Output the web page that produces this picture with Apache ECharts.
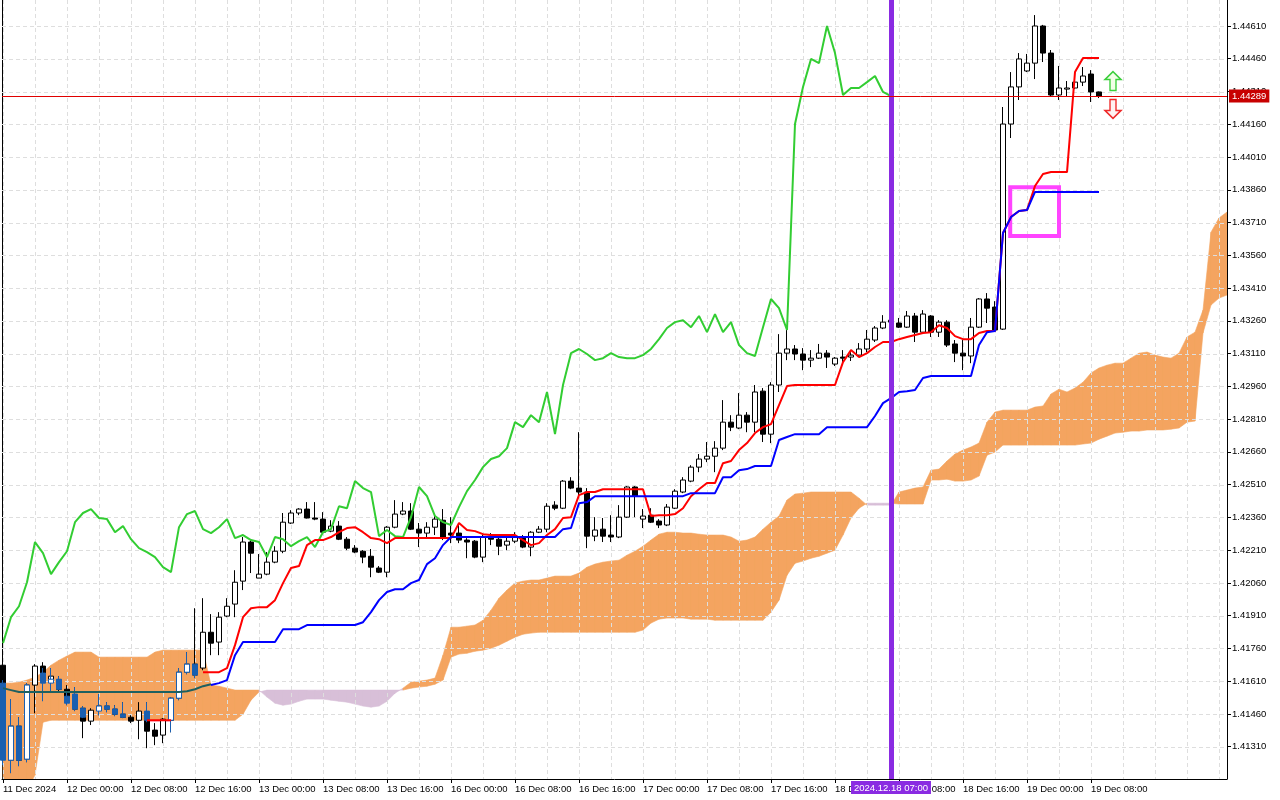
<!DOCTYPE html>
<html>
<head>
<meta charset="utf-8">
<title>GBPUSD H1 Ichimoku</title>
<script src="https://cdn.jsdelivr.net/npm/echarts@6/dist/echarts.min.js"></script>
<style>
  html, body { margin: 0; padding: 0; background: #fff; }
  #chart { width: 1280px; height: 800px; }
</style>
</head>
<body>
<div id="chart"></div>
<script>
// H1 bars, [open, close, low, high]
const ohlc = [
  [1.41683,1.41601,1.41560,1.41706],[1.41248,1.41404,1.41189,1.41528],[1.41404,1.41248,1.41221,1.41445],
  [1.41253,1.41592,1.41239,1.41601],[1.41592,1.41679,1.41463,1.41688],[1.41679,1.41647,1.41615,1.41697],
  [1.41615,1.41633,1.41560,1.41670],[1.41615,1.41573,1.41560,1.41633],[1.41573,1.41523,1.41500,1.41592],
  [1.41523,1.41482,1.41473,1.41583],[1.41486,1.41427,1.41349,1.41496],[1.41427,1.41477,1.41409,1.41486],
  [1.41477,1.41496,1.41454,1.41551],[1.41496,1.41482,1.41468,1.41514],[1.41482,1.41459,1.41450,1.41500],
  [1.41459,1.41445,1.41441,1.41514],[1.41445,1.41427,1.41418,1.41454],[1.41431,1.41473,1.41344,1.41514],
  [1.41468,1.41381,1.41303,1.41514],[1.41386,1.41358,1.41317,1.41418],[1.41363,1.41436,1.41326,1.41441],
  [1.41431,1.41532,1.41376,1.41537],[1.41532,1.41651,1.41523,1.41670],[1.41651,1.41688,1.41642,1.41743],
  [1.41688,1.41638,1.41624,1.41944],[1.41670,1.41834,1.41660,1.41990],[1.41834,1.41784,1.41729,1.41917],
  [1.41789,1.41903,1.41729,1.41926],[1.41908,1.41953,1.41903,1.41990],[1.41963,1.42063,1.41903,1.42118],
  [1.42068,1.42247,1.42027,1.42270],[1.42247,1.42196,1.42105,1.42256],[1.42082,1.42100,1.42082,1.42192],
  [1.42100,1.42155,1.42095,1.42201],[1.42155,1.42205,1.42150,1.42228],[1.42205,1.42338,1.42196,1.42380],
  [1.42334,1.42380,1.42330,1.42393],[1.42380,1.42398,1.42370,1.42402],[1.42398,1.42357,1.42355,1.42430],
  [1.42357,1.42352,1.42347,1.42430],[1.42352,1.42292,1.42288,1.42384],[1.42297,1.42320,1.42292,1.42347],
  [1.42320,1.42260,1.42256,1.42343],[1.42260,1.42219,1.42210,1.42270],[1.42219,1.42201,1.42196,1.42233],
  [1.42205,1.42178,1.42150,1.42210],[1.42182,1.42132,1.42086,1.42215],[1.42128,1.42109,1.42105,1.42137],
  [1.42109,1.42315,1.42086,1.42320],[1.42315,1.42375,1.42310,1.42439],[1.42375,1.42389,1.42370,1.42430],
  [1.42389,1.42306,1.42302,1.42425],[1.42306,1.42288,1.42224,1.42334],[1.42288,1.42315,1.42270,1.42338],
  [1.42315,1.42352,1.42279,1.42370],[1.42347,1.42265,1.42256,1.42398],[1.42288,1.42279,1.42242,1.42361],
  [1.42288,1.42256,1.42242,1.42334],[1.42256,1.42247,1.42173,1.42265],[1.42251,1.42178,1.42173,1.42256],
  [1.42178,1.42270,1.42155,1.42279],[1.42274,1.42260,1.42233,1.42288],[1.42260,1.42228,1.42187,1.42270],
  [1.42233,1.42251,1.42210,1.42279],[1.42251,1.42270,1.42242,1.42292],[1.42265,1.42224,1.42219,1.42279],
  [1.42224,1.42292,1.42182,1.42297],[1.42292,1.42306,1.42288,1.42320],[1.42306,1.42411,1.42292,1.42425],
  [1.42416,1.42402,1.42393,1.42434],[1.42402,1.42526,1.42398,1.42531],[1.42526,1.42494,1.42489,1.42544],
  [1.42494,1.42476,1.42453,1.42750],[1.42476,1.42274,1.42219,1.42494],[1.42274,1.42302,1.42251,1.42361],
  [1.42306,1.42274,1.42247,1.42357],[1.42279,1.42270,1.42247,1.42370],[1.42270,1.42361,1.42265,1.42416],
  [1.42361,1.42499,1.42357,1.42503],[1.42499,1.42457,1.42361,1.42503],[1.42352,1.42366,1.42311,1.42398],
  [1.42370,1.42338,1.42334,1.42402],[1.42343,1.42325,1.42311,1.42352],[1.42325,1.42407,1.42320,1.42421],
  [1.42402,1.42480,1.42398,1.42489],[1.42476,1.42531,1.42471,1.42544],[1.42526,1.42590,1.42521,1.42599],
  [1.42590,1.42627,1.42567,1.42650],[1.42627,1.42640,1.42613,1.42705],[1.42640,1.42677,1.42567,1.42709],
  [1.42677,1.42796,1.42668,1.42897],[1.42796,1.42773,1.42755,1.42828],[1.42769,1.42828,1.42764,1.42929],
  [1.42828,1.42796,1.42750,1.42842],[1.42796,1.42934,1.42750,1.42966],[1.42938,1.42741,1.42705,1.42952],
  [1.42741,1.42966,1.42700,1.42979],[1.42966,1.43112,1.42934,1.43199],[1.43112,1.43131,1.43080,1.43222],
  [1.43131,1.43108,1.43080,1.43149],[1.43108,1.43080,1.43034,1.43135],[1.43080,1.43089,1.43048,1.43126],
  [1.43089,1.43112,1.43085,1.43154],[1.43112,1.43094,1.43044,1.43126],[1.43062,1.43089,1.43053,1.43094],
  [1.43094,1.43089,1.43071,1.43126],[1.43094,1.43103,1.43076,1.43117],[1.43103,1.43131,1.43099,1.43158],
  [1.43131,1.43176,1.43117,1.43218],[1.43172,1.43227,1.43163,1.43236],[1.43227,1.43254,1.43222,1.43286],
  [1.43254,1.43263,1.43236,1.43291],[1.43250,1.43231,1.43227,1.43273],[1.43231,1.43282,1.43227,1.43305],
  [1.43282,1.43208,1.43163,1.43296],[1.43208,1.43291,1.43204,1.43309],[1.43282,1.43208,1.43186,1.43286],
  [1.43208,1.43254,1.43186,1.43263],[1.43254,1.43149,1.43140,1.43263],[1.43154,1.43112,1.43071,1.43172],
  [1.43112,1.43099,1.43034,1.43172],[1.43099,1.43231,1.43066,1.43273],[1.43231,1.43360,1.43227,1.43364],
  [1.43360,1.43318,1.43250,1.43387],[1.43323,1.43218,1.43213,1.43350],[1.43222,1.44161,1.43218,1.44239],
  [1.44161,1.44331,1.44097,1.44399],[1.44331,1.44459,1.44271,1.44486],[1.44404,1.44440,1.44399,1.44482],
  [1.44440,1.44610,1.44367,1.44660],[1.44610,1.44486,1.44445,1.44615],[1.44486,1.44294,1.44289,1.44500],
  [1.44294,1.44326,1.44271,1.44427],[1.44321,1.44326,1.44285,1.44358],[1.44326,1.44353,1.44321,1.44399],
  [1.44353,1.44381,1.44335,1.44422],[1.44390,1.44308,1.44262,1.44408],[1.44308,1.44289,1.44280,1.44310]
];

// blue overlay candles on the first bars (null = not drawn)
const blueCandles = [
  [1.41601,1.41248,1.41225,1.41615],[1.41248,1.41404,1.41189,1.41528],[1.41404,1.41248,1.41221,1.41445],
  [1.41253,1.41592,1.41239,1.41601],null,[1.41647,1.41601,1.41518,1.41670],
  [1.41601,1.41619,1.41560,1.41670],[1.41619,1.41573,1.41569,1.41633],[1.41541,1.41509,1.41500,1.41564],
  [1.41551,1.41482,1.41473,1.41583],[1.41486,1.41445,1.41441,1.41496],null,
  [1.41473,1.41496,1.41454,1.41551],[1.41496,1.41482,1.41468,1.41514],[1.41482,1.41459,1.41450,1.41500],
  [1.41459,1.41445,1.41441,1.41514],null,null,
  [1.41473,1.41431,1.41422,1.41514],null,null,
  [1.41431,1.41532,1.41376,1.41537],[1.41532,1.41651,1.41523,1.41670],[1.41651,1.41688,1.41642,1.41743],
  [1.41688,1.41638,1.41624,1.41688]
];

// Tenkan-sen (red), from bar 18
const tenkanStart = 18;
const tenkan = [
  1.41431,1.41431,1.41431,1.41431,null,null,null,1.41651,1.41651,1.41651,
  1.41670,1.41775,1.41903,1.41944,1.41949,1.41949,1.41981,1.42059,1.42128,1.42137,
  1.42233,1.42256,1.42256,1.42270,1.42292,1.42311,1.42315,1.42292,1.42265,1.42260,
  1.42242,1.42265,1.42265,1.42265,1.42265,1.42265,1.42265,1.42265,1.42265,1.42334,
  1.42302,1.42297,1.42283,1.42279,1.42279,1.42279,1.42279,1.42256,1.42233,1.42242,
  1.42279,1.42306,1.42357,1.42361,1.42462,1.42476,1.42476,1.42489,1.42489,1.42489,
  1.42489,1.42489,1.42489,1.42366,1.42370,1.42370,1.42375,1.42402,1.42457,1.42489,
  1.42517,1.42517,1.42608,1.42618,1.42668,1.42700,1.42746,1.42773,1.42787,1.42874,
  1.42961,1.42966,1.42966,1.42966,1.42966,1.42966,1.42966,1.43071,1.43126,1.43094,
  1.43112,1.43140,1.43163,1.43163,1.43176,1.43186,1.43195,1.43204,1.43208,1.43240,
  1.43227,1.43190,1.43176,1.43176,1.43204,1.43213,1.43213,1.43662,1.43735,1.43763,
  1.43767,1.43877,1.43932,1.43941,1.43941,1.43941,1.44399,1.44463,1.44463,1.44463
];

// Kijun-sen (blue), from bar 26
const kijunStart = 26;
const kijun = [
  1.41592,1.41601,1.41615,1.41729,1.41789,1.41789,1.41789,1.41789,1.41789,1.41848,
  1.41848,1.41848,1.41867,1.41867,1.41867,1.41867,1.41867,1.41867,1.41867,1.41880,
  1.41926,1.41981,1.42018,1.42031,1.42031,1.42059,1.42073,1.42146,1.42173,1.42233,
  1.42270,1.42270,1.42270,1.42270,1.42270,1.42270,1.42270,1.42270,1.42270,1.42270,
  1.42270,1.42270,1.42270,1.42270,1.42306,1.42311,1.42425,1.42430,1.42457,1.42457,
  1.42457,1.42457,1.42457,1.42457,1.42457,1.42457,1.42457,1.42457,1.42457,1.42457,
  1.42471,1.42471,1.42471,1.42471,1.42544,1.42544,1.42576,1.42581,1.42595,1.42595,
  1.42595,1.42714,1.42728,1.42741,1.42741,1.42741,1.42741,1.42773,1.42773,1.42773,
  1.42773,1.42773,1.42773,1.42824,1.42883,1.42906,1.42934,1.42938,1.42943,1.42998,
  1.43007,1.43007,1.43007,1.43007,1.43007,1.43007,1.43149,1.43208,1.43213,1.43662,
  1.43735,1.43763,1.43767,1.43850,1.43850,1.43850,1.43850,1.43850,1.43850,1.43850,1.43850,1.43850
];

// Chikou span (green), bars 0..111
const chikou = [
  1.41784,1.41903,1.41953,1.42063,1.42247,1.42196,1.42100,1.42155,1.42205,1.42338,
  1.42380,1.42398,1.42357,1.42352,1.42292,1.42320,1.42260,1.42219,1.42201,1.42178,
  1.42132,1.42109,1.42315,1.42375,1.42389,1.42306,1.42288,1.42315,1.42352,1.42265,
  1.42279,1.42256,1.42247,1.42178,1.42270,1.42260,1.42228,1.42251,1.42270,1.42224,
  1.42292,1.42306,1.42411,1.42402,1.42526,1.42494,1.42476,1.42274,1.42302,1.42274,
  1.42270,1.42361,1.42499,1.42457,1.42366,1.42338,1.42325,1.42407,1.42480,1.42531,
  1.42590,1.42627,1.42640,1.42677,1.42796,1.42773,1.42828,1.42796,1.42934,1.42741,
  1.42966,1.43112,1.43131,1.43108,1.43080,1.43089,1.43112,1.43094,1.43089,1.43089,
  1.43103,1.43131,1.43176,1.43227,1.43254,1.43263,1.43231,1.43282,1.43208,1.43291,
  1.43208,1.43254,1.43149,1.43112,1.43099,1.43231,1.43360,1.43318,1.43218,1.44161,
  1.44331,1.44459,1.44440,1.44610,1.44486,1.44294,1.44326,1.44326,1.44353,1.44381,1.44308,1.44289
];

// second indicator lines on the first bars
const pinkLine = [
  1.41578,1.41569,1.41560,1.41560,1.41560,1.41560,1.41560,1.41560,1.41560,1.41445,
  1.41445,1.41477,1.41523,1.41514,1.41500,1.41486,1.41473,1.41468,1.41431,1.41431,
  1.41431,1.41431,1.41491,1.41555,1.41624,1.41651
];
const tealLine = [
  1.41578,1.41569,1.41560,1.41560,1.41560,1.41560,1.41560,1.41560,1.41560,1.41560,
  1.41560,1.41560,1.41560,1.41560,1.41560,1.41560,1.41560,1.41560,1.41560,1.41560,
  1.41560,1.41560,1.41560,1.41564,1.41573,1.41587,1.41596
];

// Senkou span A / B (already shifted forward), bars 0..153
const spanA = [
  1.41601,1.41601,1.41605,1.41615,1.41628,1.41651,1.41683,1.41706,1.41725,1.41743,
  1.41743,1.41743,1.41720,1.41720,1.41720,1.41720,1.41720,1.41720,1.41720,1.41743,
  1.41752,1.41752,1.41752,1.41752,1.41752,1.41752,1.41592,1.41587,1.41578,1.41569,
  1.41569,1.41569,1.41569,1.41537,1.41509,1.41500,1.41505,1.41518,1.41528,1.41528,
  1.41528,1.41523,1.41518,1.41514,1.41505,1.41496,1.41491,1.41496,1.41518,1.41555,
  1.41578,1.41605,1.41610,1.41615,1.41624,1.41729,1.41857,1.41857,1.41862,1.41867,
  1.41889,1.41935,1.41990,1.42027,1.42059,1.42068,1.42073,1.42073,1.42082,1.42091,
  1.42091,1.42091,1.42105,1.42132,1.42146,1.42155,1.42160,1.42164,1.42187,1.42205,
  1.42228,1.42256,1.42283,1.42292,1.42292,1.42288,1.42288,1.42283,1.42279,1.42279,
  1.42279,1.42270,1.42251,1.42256,1.42270,1.42306,1.42338,1.42366,1.42439,1.42467,
  1.42471,1.42476,1.42476,1.42476,1.42476,1.42476,1.42476,1.42448,1.42416,1.42416,
  1.42416,1.42416,1.42476,1.42485,1.42494,1.42499,1.42576,1.42581,1.42618,1.42650,
  1.42668,1.42682,1.42700,1.42796,1.42842,1.42851,1.42851,1.42851,1.42851,1.42865,
  1.42870,1.42925,1.42947,1.42934,1.42952,1.42979,1.43021,1.43044,1.43057,1.43066,
  1.43066,1.43089,1.43112,1.43117,1.43103,1.43094,1.43089,1.43112,1.43186,1.43208,
  1.43309,1.43666,1.43731,1.43758
];
const spanB = [
  1.41111,1.41111,1.41111,1.41111,1.41180,1.41422,1.41431,1.41431,1.41431,1.41431,
  1.41431,1.41431,1.41431,1.41431,1.41431,1.41431,1.41431,1.41431,1.41431,1.41431,
  1.41431,1.41431,1.41431,1.41431,1.41431,1.41431,1.41431,1.41431,1.41431,1.41431,
  1.41459,1.41523,1.41560,1.41569,1.41569,1.41569,1.41569,1.41569,1.41569,1.41569,
  1.41569,1.41569,1.41569,1.41569,1.41569,1.41569,1.41569,1.41569,1.41569,1.41569,
  1.41569,1.41578,1.41583,1.41587,1.41596,1.41615,1.41720,1.41734,1.41738,1.41747,
  1.41752,1.41761,1.41775,1.41793,1.41811,1.41825,1.41830,1.41834,1.41834,1.41834,
  1.41834,1.41834,1.41834,1.41834,1.41834,1.41834,1.41834,1.41834,1.41834,1.41834,
  1.41844,1.41876,1.41894,1.41899,1.41899,1.41899,1.41894,1.41894,1.41894,1.41889,
  1.41889,1.41889,1.41889,1.41889,1.41889,1.41889,1.41926,1.41981,1.42095,1.42150,
  1.42160,1.42173,1.42182,1.42196,1.42210,1.42279,1.42357,1.42402,1.42425,1.42425,
  1.42425,1.42425,1.42421,1.42421,1.42421,1.42421,1.42531,1.42531,1.42535,1.42526,
  1.42526,1.42531,1.42549,1.42645,1.42659,1.42691,1.42691,1.42691,1.42691,1.42691,
  1.42691,1.42691,1.42691,1.42691,1.42691,1.42696,1.42700,1.42718,1.42732,1.42746,
  1.42750,1.42755,1.42755,1.42760,1.42760,1.42760,1.42764,1.42769,1.42796,1.42801,
  1.43204,1.43332,1.43364,1.43378
];

// axes
const yTicks = [
  1.41310,1.41460,1.41610,1.41760,1.41910,1.42060,1.42210,1.42360,1.42510,1.42660,1.42810,1.42960,
  1.43110,1.43260,1.43410,1.43560,1.43710,1.43860,1.44010,1.44160,1.44310,1.44460,1.44610
];
const xTickLabels = [
  '11 Dec 2024','12 Dec 00:00','12 Dec 08:00','12 Dec 16:00','13 Dec 00:00','13 Dec 08:00',
  '13 Dec 16:00','16 Dec 00:00','16 Dec 08:00','16 Dec 16:00','17 Dec 00:00','17 Dec 08:00',
  '17 Dec 16:00','18 Dec 00:00','18 Dec 08:00','18 Dec 16:00','19 Dec 00:00','19 Dec 08:00'
];
const xTickStep = 8;   // bars between time labels
const xGridStep = 4;   // bars between vertical grid lines

// annotations
const lastPrice = 1.44289;
const markerBar = 111;
const markerLabel = '2024.12.18 07:00';
const boxArea = [125.9, 1.43872, 132, 1.43648];
const arrowUp = [138.75, 1.44358];
const arrowDown = [138.75, 1.44230];

const FONT = 'Liberation Sans';
const xTickVals = xTickLabels.map((_, k) => k * xTickStep);
const vGrid = [];
for (let i = 0; i <= 152; i += xGridStep) vGrid.push([i]);

const withIndex = (arr, start) => arr.map((v, i) => [start + i, v]);

const cloudData = [];
for (let i = 0; i < spanA.length - 1; i++) {
  cloudData.push([i, spanA[i], spanB[i], spanA[i + 1], spanB[i + 1]]);
}

const chart = echarts.init(document.getElementById('chart'));

const option = {
  animation: false,
  backgroundColor: '#ffffff',
  grid: { left: 2, right: 53, top: 0, bottom: 21 },
  xAxis: {
    type: 'value', min: -0.125, max: 153,
    axisLine: { show: true, onZero: false, lineStyle: { color: '#000', width: 1 } },
    axisTick: { show: true, customValues: xTickVals, length: 4, lineStyle: { color: '#000' } },
    axisLabel: {
      customValues: xTickVals, align: 'left', margin: 5,
      color: '#000', fontFamily: FONT, fontSize: 9.5,
      formatter: v => xTickLabels[Math.round(v / xTickStep)]
    },
    splitLine: { show: false }
  },
  yAxis: [{
    type: 'value', position: 'right', min: 1.41162, max: 1.44729,
    axisLine: { show: true, onZero: false, lineStyle: { color: '#000', width: 1 } },
    axisTick: { show: true, customValues: yTicks, length: 4, lineStyle: { color: '#000' } },
    axisLabel: {
      customValues: yTicks, margin: 5, color: '#000', fontFamily: FONT, fontSize: 9.5,
      formatter: v => v.toFixed(5)
    },
    splitLine: { show: false }
  }, {
    type: 'value', position: 'left', min: 1.41162, max: 1.44729,
    axisLine: { show: true, onZero: false, lineStyle: { color: '#000', width: 1 } },
    axisTick: { show: false }, axisLabel: { show: false }, splitLine: { show: false }
  }],
  series: [
    {
      name: 'cloud', type: 'custom', clip: true, silent: true,
      data: cloudData,
      encode: { x: 0, y: [1, 2, 3, 4] },
      renderItem(params, api) {
        const i = api.value(0);
        const a0 = api.value(1), b0 = api.value(2), a1 = api.value(3), b1 = api.value(4);
        const fill = (a0 + a1) >= (b0 + b1) ? '#f4a460' : '#d8bfd8';
        return {
          type: 'polygon',
          shape: { points: [api.coord([i, a0]), api.coord([i + 1, a1]), api.coord([i + 1, b1]), api.coord([i, b0])] },
          style: { fill, stroke: fill, lineWidth: 0.6 }
        };
      }
    },
    {
      name: 'hgrid', type: 'custom', silent: true,
      data: yTicks.map(v => [v]),
      encode: { y: 0 },
      renderItem(params, api) {
        const cs = params.coordSys;
        const y = Math.round(api.coord([0, api.value(0)])[1]) + 0.5;
        return { type: 'line', shape: { x1: cs.x, y1: y, x2: cs.x + cs.width, y2: y },
          style: { stroke: '#dedede', lineWidth: 1, lineDash: [4, 3] } };
      }
    },
    {
      name: 'vgrid', type: 'custom', silent: true,
      data: vGrid,
      encode: { x: 0 },
      renderItem(params, api) {
        const cs = params.coordSys;
        const x = Math.round(api.coord([api.value(0), 1.43])[0]) + 0.5;
        return { type: 'line', shape: { x1: x, y1: cs.y, x2: x, y2: cs.y + cs.height },
          style: { stroke: '#dedede', lineWidth: 1, lineDash: [4, 3] } };
      }
    },
    {
      name: 'price', type: 'candlestick', barWidth: 5,
      data: ohlc.map((d, i) => [i, d[0], d[1], d[2], d[3]]),
      encode: { x: 0, y: [1, 2, 3, 4] },
      itemStyle: { color: '#ffffff', color0: '#000000', borderColor: '#000000', borderColor0: '#000000', borderWidth: 1 }
    },
    {
      name: 'overlay', type: 'candlestick', barWidth: 5,
      data: blueCandles.map((d, i) => d ? [i, d[0], d[1], d[2], d[3]] : null).filter(Boolean),
      encode: { x: 0, y: [1, 2, 3, 4] },
      itemStyle: { color: '#ffffff', color0: '#1a5fb0', borderColor: '#1a5fb0', borderColor0: '#1a5fb0', borderWidth: 1 }
    },
    {
      name: 'chikou', type: 'line', symbol: 'none', data: withIndex(chikou, 0),
      lineStyle: { color: '#32cd32', width: 2 }
    },
    {
      name: 'tenkan', type: 'line', symbol: 'none', data: withIndex(tenkan, tenkanStart),
      lineStyle: { color: '#ff0000', width: 2 }
    },
    {
      name: 'pink', type: 'line', symbol: 'none', data: withIndex(pinkLine, 0), z: 1.9,
      lineStyle: { color: '#ff5fb4', width: 2 }
    },
    {
      name: 'teal', type: 'line', symbol: 'none', data: withIndex(tealLine, 0),
      lineStyle: { color: '#1e6060', width: 2 }
    },
    {
      name: 'kijun', type: 'line', symbol: 'none', data: withIndex(kijun, kijunStart),
      lineStyle: { color: '#0000ff', width: 2 },
      markLine: {
        silent: true, symbol: ['none', 'none'], animation: false, precision: 5,
        data: [
          {
            xAxis: markerBar,
            lineStyle: { color: '#8a2be2', width: 5, type: 'solid' },
            label: { show: true, position: 'start', formatter: markerLabel, distance: 2,
              color: '#fff', backgroundColor: '#8a2be2', padding: [2, 3, 1, 3],
              fontFamily: FONT, fontSize: 9.5 }
          },
          {
            yAxis: lastPrice,
            lineStyle: { color: '#e00000', width: 1, type: 'solid' },
            label: { show: true, position: 'end', formatter: lastPrice.toFixed(5), distance: 2,
              color: '#fff', backgroundColor: '#c80000', padding: [2, 3, 1, 3],
              fontFamily: FONT, fontSize: 9.5 }
          }
        ]
      },
      markPoint: {
        silent: true, label: { show: false },
        data: [
          { coord: arrowUp, symbol: 'path://M8,0 L16,8 L11,8 L11,19 L5,19 L5,8 L0,8 Z', symbolSize: [16, 19],
            itemStyle: { color: '#f2ffe8', borderColor: '#3ccf3c', borderWidth: 1.5 } },
          { coord: arrowDown, symbol: 'path://M5,0 L11,0 L11,11 L16,11 L8,19 L0,11 L5,11 Z', symbolSize: [16, 19],
            itemStyle: { color: '#fff2f2', borderColor: '#ee2a2a', borderWidth: 1.5 } }
        ]
      }
    },
    {
      name: 'box', type: 'custom', silent: true,
      data: [boxArea],
      encode: { x: [0, 2], y: [1, 3] },
      renderItem(params, api) {
        const p0 = api.coord([api.value(0), api.value(1)]);
        const p1 = api.coord([api.value(2), api.value(3)]);
        return { type: 'rect', shape: { x: p0[0], y: p0[1], width: p1[0] - p0[0], height: p1[1] - p0[1] },
          style: { fill: 'none', stroke: '#ff44ff', lineWidth: 4 } };
      }
    }
  ]
};

chart.setOption(option);
</script>
</body>
</html>
